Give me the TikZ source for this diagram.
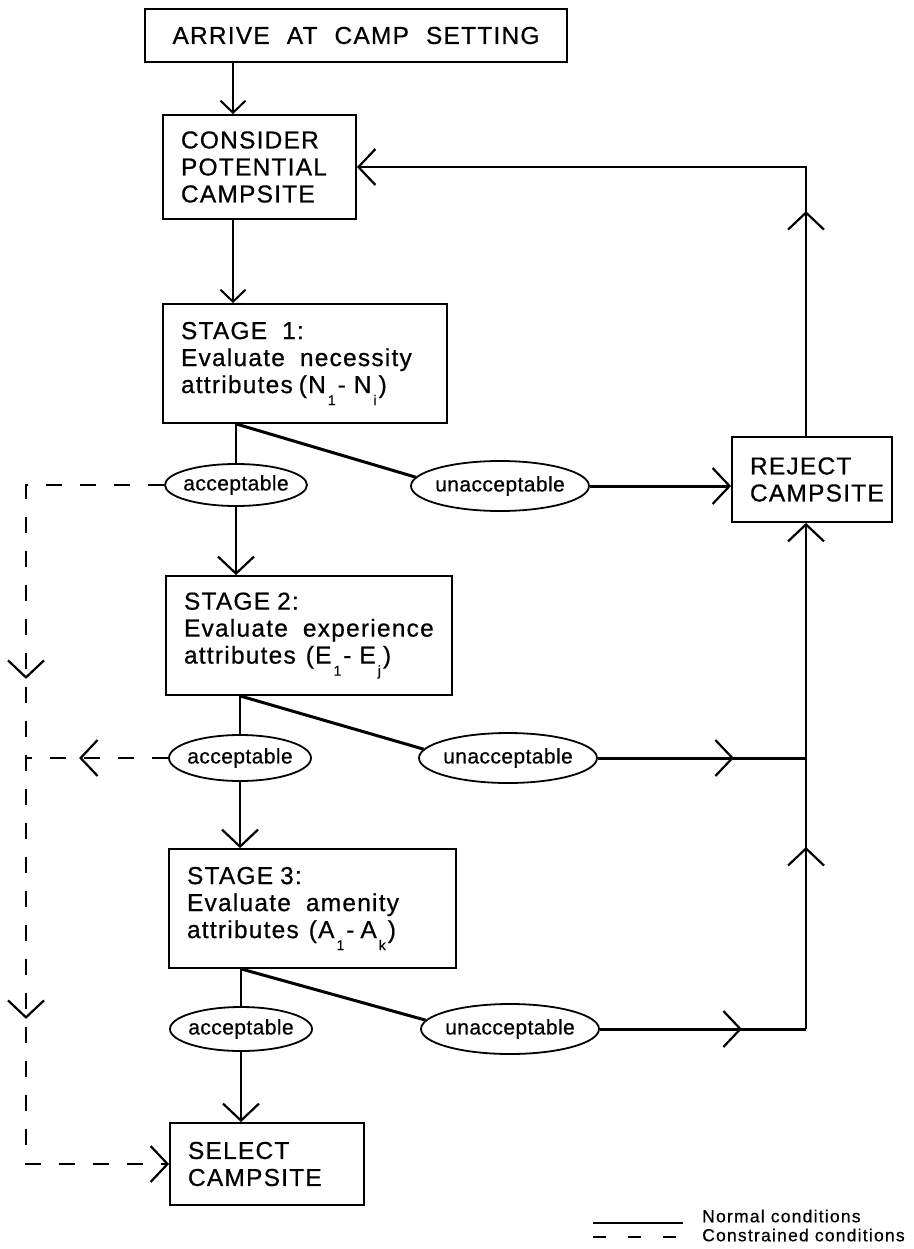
\documentclass[tikz,border=0pt]{standalone}
\usepackage{fontspec}
\setmainfont{Liberation Sans}[LetterSpace=5,FakeBold=0.6]
\usetikzlibrary{arrows.meta,decorations.markings,shapes.geometric}
\newcommand{\lowsub}[1]{\hspace{2pt}\raisebox{-12pt}{\fontsize{14}{14}\selectfont #1}\hspace{2pt}}
\newcommand{\wgap}[1][15pt]{\nobreak\hspace{#1}}
\begin{document}
\begin{tikzpicture}[x=1pt,y=-1pt,
  camptip/.tip={Straight Barb[length=17pt,width=36pt,line width=2.2pt]},
  smalltip/.tip={Straight Barb[length=12pt,width=25pt,line width=2pt]},
  box/.style={draw,line width=1.8pt,align=left,inner xsep=18pt,inner ysep=0pt,font=\fontsize{24.5}{27}\selectfont},
  oval/.style={draw,ellipse,line width=1.8pt,inner xsep=-5pt,inner ysep=0pt,font=\fontsize{21}{23}\selectfont\addfontfeature{LetterSpace=2}},
  legend/.style={anchor=west,inner sep=0pt,font=\fontsize{17.5}{19}\selectfont\addfontfeature{LetterSpace=7}},
  thinline/.style={line width=1.5pt},
  heavy/.style={line width=3pt},
  constr/.style={line width=1.8pt,dash pattern=on 16pt off 18pt},
  midtip/.style={postaction={decorate,decoration={markings,mark=at position #1 with {\arrow{camptip}}}}}]
\useasboundingbox (0,0) rectangle (913,1249);
\node[box,align=center,text width=386pt,minimum height=53pt] (arrive) at (356,35.5) {ARRIVE\wgap[17pt]AT\wgap[17pt]CAMP\wgap[17pt]SETTING};
\node[box,text width=157pt,minimum height=104pt] (consider) at (259.5,167) {CONSIDER\\POTENTIAL\\CAMPSITE};
\node[box,text width=248pt,minimum height=119pt] (stageone) at (305,363.5) {STAGE\wgap1:\\Evaluate\wgap necessity\\attributes\wgap[6pt](N\lowsub{1}-\wgap[8pt]N\lowsub{i})};
\node[box,text width=250pt,minimum height=119pt] (stagetwo) at (309,635.5) {STAGE\wgap[7pt]2:\\Evaluate\wgap experience\\attributes\wgap[10pt](E\lowsub{1}-\wgap[8pt]E\lowsub{j})};
\node[box,text width=251pt,minimum height=119pt] (stagethree) at (312.5,908.5) {STAGE\wgap[7pt]3:\\Evaluate\wgap amenity\\attributes\wgap[10pt](A\lowsub{1}-\wgap[6pt]A\lowsub{k})};
\node[box,text width=158pt,minimum height=82pt] (select) at (267,1164) {SELECT\\CAMPSITE};
\node[box,text width=124pt,minimum height=85pt] (reject) at (812,479.5) {REJECT\\CAMPSITE};
\node[oval,minimum width=142pt,minimum height=42pt] (accone) at (236,485) {acceptable};
\node[oval,minimum width=178pt,minimum height=50pt] (unaccone) at (500,486) {unacceptable};
\node[oval,minimum width=142pt,minimum height=46pt] (acctwo) at (240,758) {acceptable};
\node[oval,minimum width=178pt,minimum height=50pt] (unacctwo) at (508,758) {unacceptable};
\node[oval,minimum width=142pt,minimum height=44pt] (accthree) at (241,1029) {acceptable};
\node[oval,minimum width=178pt,minimum height=50pt] (unaccthree) at (510,1029) {unacceptable};
\node[legend] (normal) at (702,1216) {Normal conditions};
\node[legend] (constrained) at (702,1235) {Constrained conditions};
\coordinate (trunk) at (233,0);
\coordinate (rline) at (806,0);
\coordinate (dline) at (26,0);
\draw[thinline,-smalltip] (arrive.south -| trunk) -- (consider.north -| trunk);
\draw[thinline,-smalltip] (consider.south -| trunk) -- (stageone.north -| trunk);
\draw[thinline] (stageone.south -| accone) -- (accone);
\draw[thinline,-camptip] (accone) -- (stagetwo.north -| accone);
\draw[thinline] (stagetwo.south -| acctwo) -- (acctwo);
\draw[thinline,-camptip] (acctwo) -- (stagethree.north -| acctwo);
\draw[thinline] (stagethree.south -| accthree) -- (accthree);
\draw[thinline,-camptip] (accthree) -- (select.north -| accthree);
\draw[heavy] (stageone.south -| accone) -- (unaccone.174);
\draw[heavy] (stagetwo.south -| acctwo) -- (unacctwo.174);
\draw[heavy] (stagethree.south -| accthree) -- (unaccthree.174);
\draw[heavy,-camptip] (unaccone) -- (unaccone -| reject.west);
\draw[heavy,midtip=136pt] (unacctwo) -- (unacctwo -| rline);
\draw[heavy,midtip=142pt] (unaccthree) -- (unaccthree -| rline);
\draw[thinline,midtip=182pt,-camptip] (unaccthree -| rline) -- (reject.south -| rline);
\draw[thinline,midtip=225pt,-camptip] (reject.north -| rline) |- (consider.east);
\draw[constr,midtip=332pt,midtip=672pt,-camptip] (accone) -| (select.west -| dline) -- (select.west);
\draw[constr,midtip=89pt] (acctwo) -- (acctwo -| dline);
\draw[thinline] ([shift={(-109,7)}]normal.west) -- ([shift={(-19,7)}]normal.west);
\draw[line width=1.5pt,dash pattern=on 13pt off 22pt] ([shift={(-109,2)}]constrained.west) -- ([shift={(-19,2)}]constrained.west);
\end{tikzpicture}
\end{document}
